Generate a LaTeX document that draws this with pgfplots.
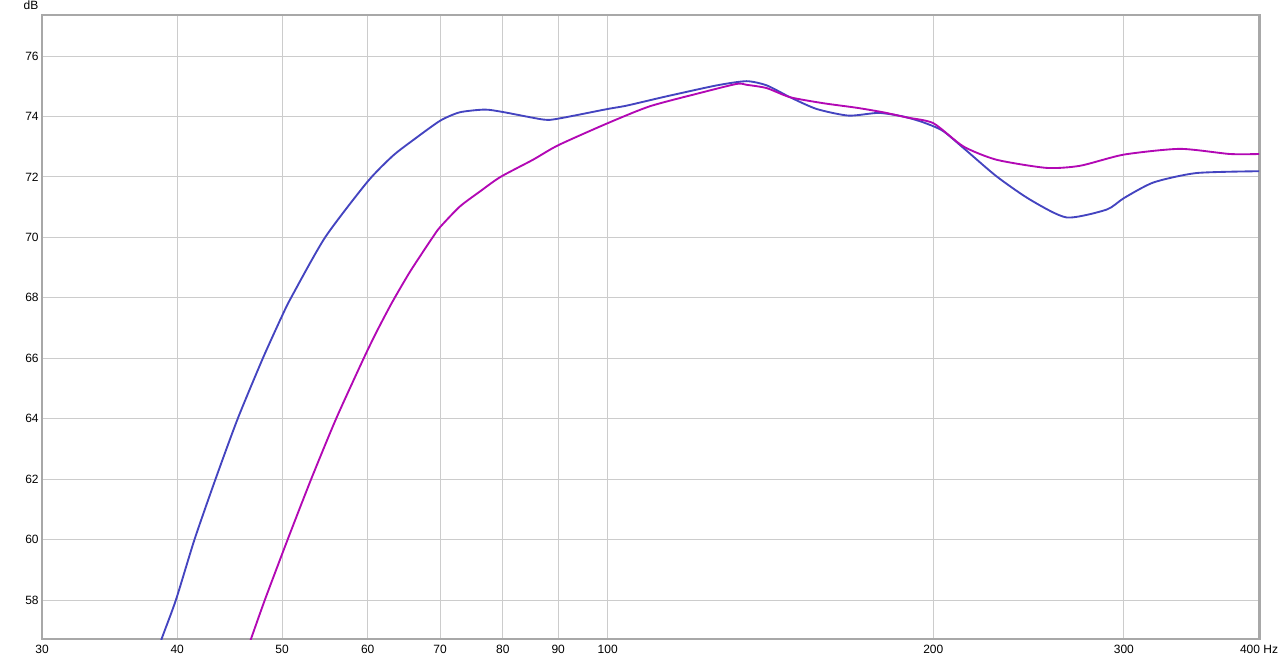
\documentclass[border=0pt]{standalone}
\usepackage{fontspec}
\setmainfont{Liberation Sans}
\usepackage{pgfplots}
\pgfplotsset{compat=1.18}

\definecolor{curveblue}{RGB}{68,68,192}
\definecolor{curvemag}{RGB}{178,8,180}
\definecolor{gridgray}{RGB}{204,204,204}
\definecolor{framegray}{RGB}{168,168,168}

% measured response, two runs
\pgfplotstableread{
f     db
38.0  55.84
38.7  56.71
39.9  58.00
41.5  60.00
43.4  62.00
45.5  64.00
48.0  66.00
50.0  67.40
51.0  68.02
54.8  70.00
60.0  71.85
63.3  72.70
66.1  73.22
70.0  73.86
73.0  74.14
77.0  74.23
80.0  74.15
87.2  73.90
90.0  73.93
100.0 74.25
104.1 74.36
113.4 74.67
126.1 75.03
134.4 75.17
140.3 75.03
147.4 74.64
156.0 74.25
167.0 74.03
178.0 74.12
187.6 74.00
195.7 73.81
204.0 73.53
213.2 72.96
228.8 72.02
245.7 71.25
265.6 70.66
289.2 70.92
300.0 71.30
319.6 71.82
350.2 72.13
400.0 72.19
}\runA

\pgfplotstableread{
f     db
46.0  55.98
46.8  56.71
48.2  58.00
50.6  60.00
53.2  62.00
56.1  64.00
59.5  66.00
61.2  66.90
63.2  67.85
65.7  68.88
68.9  70.00
70.0  70.34
73.0  71.02
76.2  71.52
79.6  72.00
85.3  72.57
90.0  73.05
100.0 73.78
109.4 74.34
121.7 74.78
131.6 75.08
134.4 75.05
140.3 74.94
147.4 74.64
158.3 74.44
169.9 74.29
179.8 74.14
189.0 73.97
200.0 73.78
213.2 73.01
228.8 72.57
254.5 72.30
273.3 72.37
300.0 72.74
338.0 72.93
376.0 72.76
400.0 72.76
}\runB

\begin{document}
\begin{tikzpicture}
\begin{axis}[
    name=ax,
    at={(0,0)}, anchor=south west,
    scale only axis,
    width=912.75pt, height=468pt,
    xmode=log,
    xmin=30, xmax=400,
    ymin=56.71, ymax=77.36,
    xtick={30,40,50,60,70,80,90,100,200,300,400},
    xticklabels={30,40,50,60,70,80,90,100,200,300,400 Hz},
    ytick={58,60,...,76},
    minor xtick={},
    grid=major,
    major grid style={draw=gridgray, line width=0.75pt},
    tick style={draw=none},
    axis line style={draw=framegray, line width=2.2pt},
    /pgf/number format/assume math mode=true,
    ticklabel style={font=\fontsize{9}{11}\selectfont, text=black},
    xticklabel style={yshift=-1pt},
    yticklabel style={xshift=1pt},
    clip mode=individual,
]
\addplot[curveblue, line width=1.4pt, smooth, tension=0.4] table[x=f, y=db] {\runA};
\addplot[curvemag, line width=1.4pt, smooth, tension=0.4] table[x=f, y=db] {\runB};
\node[anchor=south east, font=\fontsize{9}{11}\selectfont, inner sep=0pt]
    at ([xshift=-2.5pt, yshift=3.5pt]rel axis cs:0,1) {dB};
\end{axis}
\pgfresetboundingbox
\path (ax.south west) ++(-31.5pt,-17.25pt) rectangle ++(960pt,496.5pt);
\end{tikzpicture}
\end{document}
